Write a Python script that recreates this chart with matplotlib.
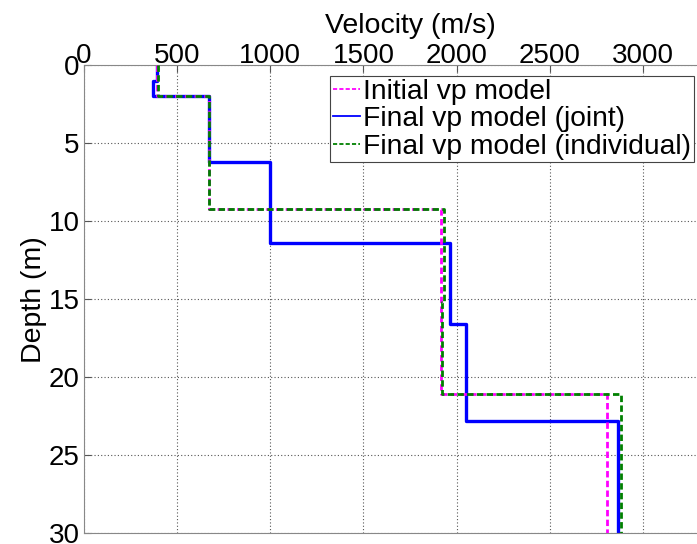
import matplotlib
matplotlib.use("Agg")
import matplotlib.pyplot as plt

plt.rcParams['font.family'] = ['Liberation Sans', 'DejaVu Sans']

# Step models: depth boundaries (m) and velocities (m/s)
init_depth = [0, 2, 2, 9.2, 9.2, 21.1, 21.1, 30]
init_vel = [390, 390, 670, 670, 1915, 1915, 2805, 2805]

joint_depth = [0, 1, 1, 2, 2, 6.2, 6.2, 11.4, 11.4, 16.6, 16.6, 22.8, 22.8, 30]
joint_vel = [390, 390, 370, 370, 670, 670, 1000, 1000, 1965, 1965, 2050, 2050, 2865, 2865]

indiv_depth = [0, 2, 2, 9.2, 9.2, 15.2, 15.2, 21.1, 21.1, 30]
indiv_vel = [395, 395, 670, 670, 1935, 1935, 1922, 1922, 2880, 2880]

xticks = [0, 500, 1000, 1500, 2000, 2500, 3000]
yticks = [0, 5, 10, 15, 20, 25, 30]

fig = plt.figure(figsize=(6.97, 5.44), dpi=100)
ax = fig.add_axes([84/697, 1-533.3/544, (736-84)/697, (533.3-65)/544])

dash = (0, (2.3, 1.2))
ax.plot(init_vel, init_depth, color='#ff00ff', linestyle=dash, linewidth=2, label='Initial vp model', zorder=3)
ax.plot(joint_vel, joint_depth, color='#0000ff', linestyle='-', linewidth=2.4, label='Final vp model (joint)', zorder=2)
ax.plot(indiv_vel, indiv_depth, color='#008000', linestyle=dash, linewidth=2, label='Final vp model (individual)', zorder=4)

ax.set_xlim(0, 3500)
ax.set_ylim(30, 0)
ax.set_xticks(xticks)
ax.set_yticks(yticks)
ax.xaxis.tick_top()
ax.xaxis.set_label_position('top')
ax.tick_params(direction='in', labelsize=20, length=5, color='#555555')
ax.tick_params(axis='x', pad=-3)
ax.tick_params(axis='y', pad=3)
ax.set_xlabel('Velocity (m/s)', fontsize=20.5, labelpad=7)
ax.set_ylabel('Depth (m)', fontsize=20.5, labelpad=1)
for s in ax.spines.values():
    s.set_color('#888888')
ax.grid(True, linestyle=(0, (1, 2)), color='#555555', linewidth=0.8)

leg = ax.legend(loc='upper left', bbox_to_anchor=(330/697, 1-76/544), bbox_transform=fig.transFigure,
                fontsize=20.3, frameon=True, fancybox=False, framealpha=1, edgecolor='#444444',
                handlelength=0.95, handletextpad=0.12, borderpad=0.1, labelspacing=0.05, borderaxespad=0)
leg.get_frame().set_linewidth(0.8)
for l in leg.get_lines():
    l.set_linewidth(1.3)

fig.savefig('out.png', dpi=100)
